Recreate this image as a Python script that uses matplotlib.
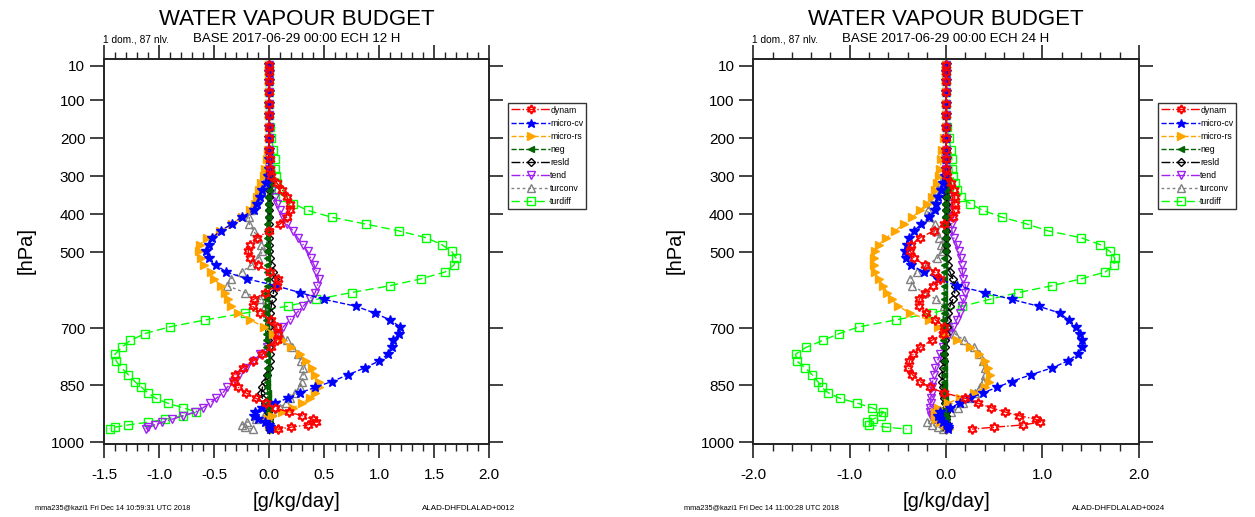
import matplotlib
matplotlib.use("Agg")
import matplotlib.pyplot as plt
from matplotlib.ticker import MultipleLocator

plt.rcParams['font.family'] = ['Liberation Sans', 'DejaVu Sans']

# pressure levels [hPa]
p_lev = [8, 25, 50, 80, 110, 140, 170, 200, 230, 255, 280,
         300, 318, 336, 354, 372, 390, 408, 426, 444, 462,
         480, 498, 516, 534, 552, 570, 588, 606, 624, 642,
         660, 678, 696, 714, 732, 750, 768, 786, 804, 822,
         840, 855, 870, 884, 897, 909, 920, 930, 939, 947, 954, 960, 965]

names = ["dynam", "micro-cv", "micro-rs", "neg", "resld", "tend", "turconv", "turdiff"]

# ---- ECH 12 H ----
dynam_12 = [0, 0, 0, 0, 0, 0, 0, 0, 0, 0.01, 0.01,
            0.02, 0.07, 0.12, 0.16, 0.19, 0.19, 0.16, 0.10, 0.0, -0.11,
            -0.17, -0.19, -0.17, -0.10, 0.01, 0.08, 0.07, -0.04, -0.14, -0.15,
            -0.08, 0.02, 0.07, 0.08, 0.07, 0.02, -0.06, -0.15, -0.24, -0.31,
            -0.32, -0.28, -0.21, -0.12, -0.03, 0.05, 0.18, 0.30, 0.40, 0.43, 0.35, 0.20, 0.08]
microcv_12 = [0, 0, 0, 0, 0, 0, 0, 0, 0, 0, 0,
              -0.01, -0.03, -0.06, -0.08, -0.11, -0.14, -0.25, -0.34, -0.44, -0.52,
              -0.55, -0.57, -0.55, -0.48, -0.39, -0.20, 0.06, 0.28, 0.50, 0.79,
              0.96, 1.10, 1.19, 1.18, 1.13, 1.12, 1.08, 1.00, 0.87, 0.72,
              0.57, 0.42, 0.28, 0.17, 0.05, -0.06, -0.13, -0.14, -0.10, -0.04, 0.0, 0.01, 0.01]
micrors_12 = [0, 0, 0, 0, 0, 0, 0, 0, -0.01, -0.02, -0.04,
              -0.05, -0.07, -0.09, -0.11, -0.13, -0.17, -0.25, -0.34, -0.45, -0.56,
              -0.63, -0.64, -0.62, -0.59, -0.53, -0.50, -0.44, -0.40, -0.37, -0.35,
              -0.28, -0.17, -0.05, 0.04, 0.12, 0.20, 0.28, 0.34, 0.39, 0.42,
              0.45, 0.45, 0.42, 0.37, 0.30, 0.22, 0.12, 0.03, -0.01, -0.02, 0.0, 0.03, 0.05]
neg_12 = [0, 0, 0, 0, 0, 0, 0, 0, 0, 0, 0,
          0, 0, 0, -0.01, -0.01, -0.01, -0.01, -0.02, -0.02, -0.02,
          -0.02, -0.02, -0.02, -0.02, -0.02, -0.02, -0.02, -0.03, -0.03, -0.03,
          -0.03, -0.03, -0.03, -0.03, -0.03, -0.03, -0.02, -0.02, -0.02, -0.02,
          -0.02, -0.02, -0.01, -0.01, -0.01, -0.01, -0.01, -0.01, 0, 0, 0, 0, 0]
resld_12 = [0, 0, 0, 0, 0, 0, 0, 0, 0, 0, 0,
            0, 0, 0, 0, 0, 0, 0, 0, 0, 0,
            0, 0, 0.01, 0.02, 0.04, 0.05, 0.05, 0.04, 0.03, 0.02,
            0.01, 0.0, 0.0, -0.01, -0.01, 0.0, 0.01, 0.01, 0.0, -0.02,
            -0.04, -0.06, -0.07, -0.06, -0.04, -0.02, -0.01, 0, 0, 0, 0, 0, 0]
tend_12 = [0, 0, 0, 0, 0, 0, 0, 0, 0, 0, 0,
           0.01, 0.02, 0.03, 0.05, 0.07, 0.10, 0.13, 0.16, 0.22, 0.26,
           0.31, 0.35, 0.38, 0.41, 0.43, 0.45, 0.44, 0.42, 0.37, 0.31,
           0.25, 0.19, 0.13, 0.08, 0.03, -0.02, -0.08, -0.14, -0.21, -0.27,
           -0.33, -0.38, -0.42, -0.48, -0.54, -0.60, -0.67, -0.78, -0.88, -0.97, -1.04, -1.10, -1.12]
turconv_12 = [0, 0, 0, 0, 0, 0, 0, 0, 0, 0, -0.01,
              -0.02, -0.04, -0.07, -0.10, -0.13, -0.16, -0.18, -0.18, -0.14, -0.10,
              -0.07, -0.06, -0.10, -0.16, -0.25, -0.35, -0.38, -0.22, -0.08, -0.04,
              -0.02, 0.0, 0.04, 0.10, 0.16, 0.21, 0.26, 0.29, 0.31, 0.31,
              0.30, 0.28, 0.24, 0.19, 0.15, 0.10, 0.03, -0.05, -0.12, -0.20, -0.25, -0.22, -0.15]
turdiff_12 = [0, 0, 0, 0, 0, 0, 0.01, 0.02, 0.04, 0.05, 0.05,
              0.06, 0.07, 0.09, 0.13, 0.22, 0.35, 0.57, 0.88, 1.18, 1.43,
              1.57, 1.66, 1.70, 1.68, 1.60, 1.38, 1.10, 0.75, 0.43, 0.17,
              -0.22, -0.58, -0.90, -1.13, -1.26, -1.34, -1.40, -1.39, -1.34, -1.28,
              -1.22, -1.16, -1.10, -1.03, -0.92, -0.78, -0.66, -0.78, -0.95, -1.10, -1.28, -1.40, -1.45]

# ---- ECH 24 H ----
dynam_24 = [0, 0, 0, 0, 0, 0, 0, 0, 0, 0, 0,
            0.01, 0.05, 0.08, 0.09, 0.09, 0.09, 0.07, -0.02, -0.13, -0.27,
            -0.36, -0.37, -0.33, -0.22, -0.12, -0.06, -0.14, -0.22, -0.28, -0.28,
            -0.21, -0.11, -0.02, -0.03, -0.15, -0.27, -0.34, -0.38, -0.39, -0.35,
            -0.27, -0.17, -0.02, 0.20, 0.33, 0.47, 0.61, 0.76, 0.93, 0.97, 0.80, 0.50, 0.27]
microcv_24 = [0, 0, 0, 0, 0, 0, 0, 0, 0, 0, 0,
              -0.01, -0.03, -0.05, -0.08, -0.10, -0.12, -0.18, -0.26, -0.33, -0.38,
              -0.41, -0.43, -0.42, -0.36, -0.23, -0.08, 0.11, 0.40, 0.68, 0.96,
              1.18, 1.27, 1.35, 1.39, 1.41, 1.41, 1.37, 1.26, 1.10, 0.88,
              0.68, 0.53, 0.38, 0.25, 0.14, 0.04, -0.06, -0.08, -0.06, -0.03, 0.01, 0.02, 0.02]
micrors_24 = [0, 0, 0, 0, 0, 0, 0, -0.02, -0.04, -0.05, -0.06,
              -0.07, -0.09, -0.12, -0.15, -0.20, -0.27, -0.35, -0.44, -0.53, -0.62,
              -0.70, -0.74, -0.75, -0.75, -0.74, -0.70, -0.65, -0.61, -0.56, -0.50,
              -0.37, -0.18, -0.08, -0.02, 0.11, 0.25, 0.34, 0.40, 0.43, 0.46,
              0.45, 0.40, 0.29, 0.14, 0.02, -0.08, -0.11, -0.11, -0.10, -0.06, -0.01, 0.02, 0.03]
neg_24 = [0, 0, 0, 0, 0, 0, 0, 0, 0, 0, 0,
          0, 0, 0, 0, -0.01, -0.01, -0.01, -0.01, -0.01, -0.01,
          -0.01, -0.01, -0.02, -0.02, -0.02, -0.02, -0.02, -0.02, -0.02, -0.02,
          -0.02, -0.03, -0.03, -0.03, -0.03, -0.03, -0.03, -0.02, -0.02, -0.02,
          -0.02, -0.02, -0.02, -0.01, -0.01, -0.01, -0.01, -0.01, 0, 0, 0, 0, 0]
resld_24 = [0, 0, 0, 0, 0, 0, 0, 0, 0, 0, 0,
            0, 0, 0, 0, 0, 0, 0, 0, 0, 0,
            0, 0, 0.01, 0.02, 0.04, 0.07, 0.09, 0.09, 0.07, 0.04,
            0.02, 0.01, 0.01, 0.0, -0.01, -0.01, -0.02, -0.02, -0.03, -0.04,
            -0.04, -0.03, -0.03, -0.02, -0.01, 0, 0, 0, 0, 0, 0, 0, 0]
tend_24 = [0, 0, 0, 0, 0, 0, 0, 0, 0, 0, 0,
           0.0, 0.01, 0.01, 0.02, 0.03, 0.04, 0.05, 0.06, 0.06, 0.08,
           0.11, 0.13, 0.15, 0.16, 0.17, 0.18, 0.20, 0.20, 0.18, 0.16,
           0.14, 0.11, 0.07, 0.03, 0.0, -0.03, -0.06, -0.09, -0.11, -0.13,
           -0.14, -0.15, -0.15, -0.16, -0.16, -0.17, -0.17, -0.16, -0.12, -0.06, -0.02, 0.0, 0.01]
turconv_24 = [0, 0, 0, 0, 0, 0, 0, 0, 0, 0, 0,
              -0.02, -0.05, -0.09, -0.13, -0.16, -0.19, -0.18, -0.12, -0.10, -0.07,
              -0.05, -0.04, -0.09, -0.20, -0.30, -0.37, -0.35, -0.23, -0.10, -0.02,
              0.0, 0.02, 0.04, 0.09, 0.19, 0.29, 0.34, 0.38, 0.40, 0.40,
              0.38, 0.35, 0.30, 0.24, 0.18, 0.12, 0.05, -0.02, -0.12, -0.20, -0.15, -0.08, -0.03]
turdiff_24 = [0, 0, 0, 0, 0, 0, 0.01, 0.03, 0.05, 0.06, 0.06,
              0.07, 0.09, 0.11, 0.15, 0.25, 0.38, 0.58, 0.84, 1.06, 1.40,
              1.60, 1.70, 1.75, 1.74, 1.65, 1.40, 1.10, 0.75, 0.45, 0.17,
              -0.15, -0.52, -0.90, -1.11, -1.28, -1.45, -1.56, -1.55, -1.46, -1.39,
              -1.33, -1.29, -1.22, -1.10, -0.92, -0.77, -0.65, -0.68, -0.76, -0.82, -0.80, -0.62, -0.41]

y_ticks = [10, 100, 200, 300, 400, 500, 700, 850, 1000]

styles = {
    "dynam":    dict(color="red", ls="-.", marker=(6, 1, 0), mfc="none", ms=7, mew=1.4),
    "micro-cv": dict(color="blue", ls="--", marker="*", ms=7),
    "micro-rs": dict(color="orange", ls="--", marker=">", ms=6),
    "neg":      dict(color="darkgreen", ls="--", marker="<", ms=5),
    "resld":    dict(color="black", ls="-.", marker="D", mfc="none", ms=4),
    "tend":     dict(color="#a020f0", ls="-.", marker="v", mfc="none", ms=6),
    "turconv":  dict(color="gray", ls=(0, (2, 2)), marker="^", mfc="none", ms=6),
    "turdiff":  dict(color="#00ff00", ls=(0, (6, 3)), marker="s", mfc="none", ms=6),
}

fig = plt.figure(figsize=(12.55, 5.17), dpi=100)

panels = [
    dict(rect=[0.0829, 0.1406, 0.3068, 0.7453], xlim=(-1.5, 2.0), major=0.5, minor=0.1,
         data=[dynam_12, microcv_12, micrors_12, neg_12, resld_12, tend_12, turconv_12, turdiff_12],
         ech="12", stamp="mma235@kazi1 Fri Dec 14 10:59:31 UTC 2018"),
    dict(rect=[0.6002, 0.1406, 0.3073, 0.7453], xlim=(-2.0, 2.0), major=1.0, minor=0.2,
         data=[dynam_24, microcv_24, micrors_24, neg_24, resld_24, tend_24, turconv_24, turdiff_24],
         ech="24", stamp="mma235@kazi1 Fri Dec 14 11:00:28 UTC 2018"),
]

for pan in panels:
    ax = fig.add_axes(pan["rect"])
    ax.axvline(0, color="gray", ls=(0, (4, 3)), lw=1, zorder=0)
    lines = {}
    for k in range(len(names) - 1, -1, -1):
        nm = names[k]
        lines[nm], = ax.plot(pan["data"][k], p_lev, lw=1, label=nm, zorder=2 + (8 - k) * 0.1,
                             **styles[nm])
    ax.set_xlim(*pan["xlim"])
    ax.set_ylim(1005, -8)
    ax.set_yticks(y_ticks)
    ax.set_yticklabels([str(v) for v in y_ticks])
    ax.xaxis.set_major_locator(MultipleLocator(pan["major"]))
    ax.xaxis.set_minor_locator(MultipleLocator(pan["minor"]))
    ax.xaxis.set_major_formatter(matplotlib.ticker.FormatStrFormatter('%.1f'))
    ax.tick_params(axis="both", which="major", direction="out", length=10, width=1.2,
                   labelsize=11, top=True, right=True, color="#222222")
    ax.tick_params(axis="x", which="minor", direction="out", length=5, width=1,
                   top=True, color="#222222")
    ax.tick_params(axis="x", pad=7)
    for sp in ax.spines.values():
        sp.set_linewidth(1.4)
        sp.set_color("#222222")
    ax.legend([lines[n] for n in names], names, loc="upper left",
              bbox_to_anchor=(1.05, 0.886), borderaxespad=0, fontsize=6.3,
              frameon=True, fancybox=False, edgecolor="#333333", framealpha=1,
              handlelength=4.5, handletextpad=0.0, labelspacing=0.47, borderpad=0.3,
              markerscale=0.9)

    x0, w = pan["rect"][0], pan["rect"][2]
    xc = x0 + w / 2
    fig.text(xc, 0.962, "WATER VAPOUR BUDGET", ha="center", va="center", fontsize=16)
    fig.text(x0 - 0.001, 0.924, "1 dom., 87 nlv.", ha="left", va="center", fontsize=7.3)
    fig.text(xc, 0.924, "BASE 2017-06-29 00:00 ECH %s H" % pan["ech"], ha="center",
             va="center", fontsize=9.5)
    fig.text(xc, 0.030, "[g/kg/day]", ha="center", va="center", fontsize=14.5)
    fig.text(x0 - 0.062, 0.516, "[hPa]", ha="center", va="center", rotation=90, fontsize=14.5)
    fig.text(x0 - 0.055, 0.017, pan["stamp"], ha="left", va="center", fontsize=5.3)
    fig.text(x0 + w * 0.827, 0.017, "ALAD-DHFDLALAD+00%s" % pan["ech"], ha="left",
             va="center", fontsize=5.8)

fig.savefig("out.png", dpi=100)
